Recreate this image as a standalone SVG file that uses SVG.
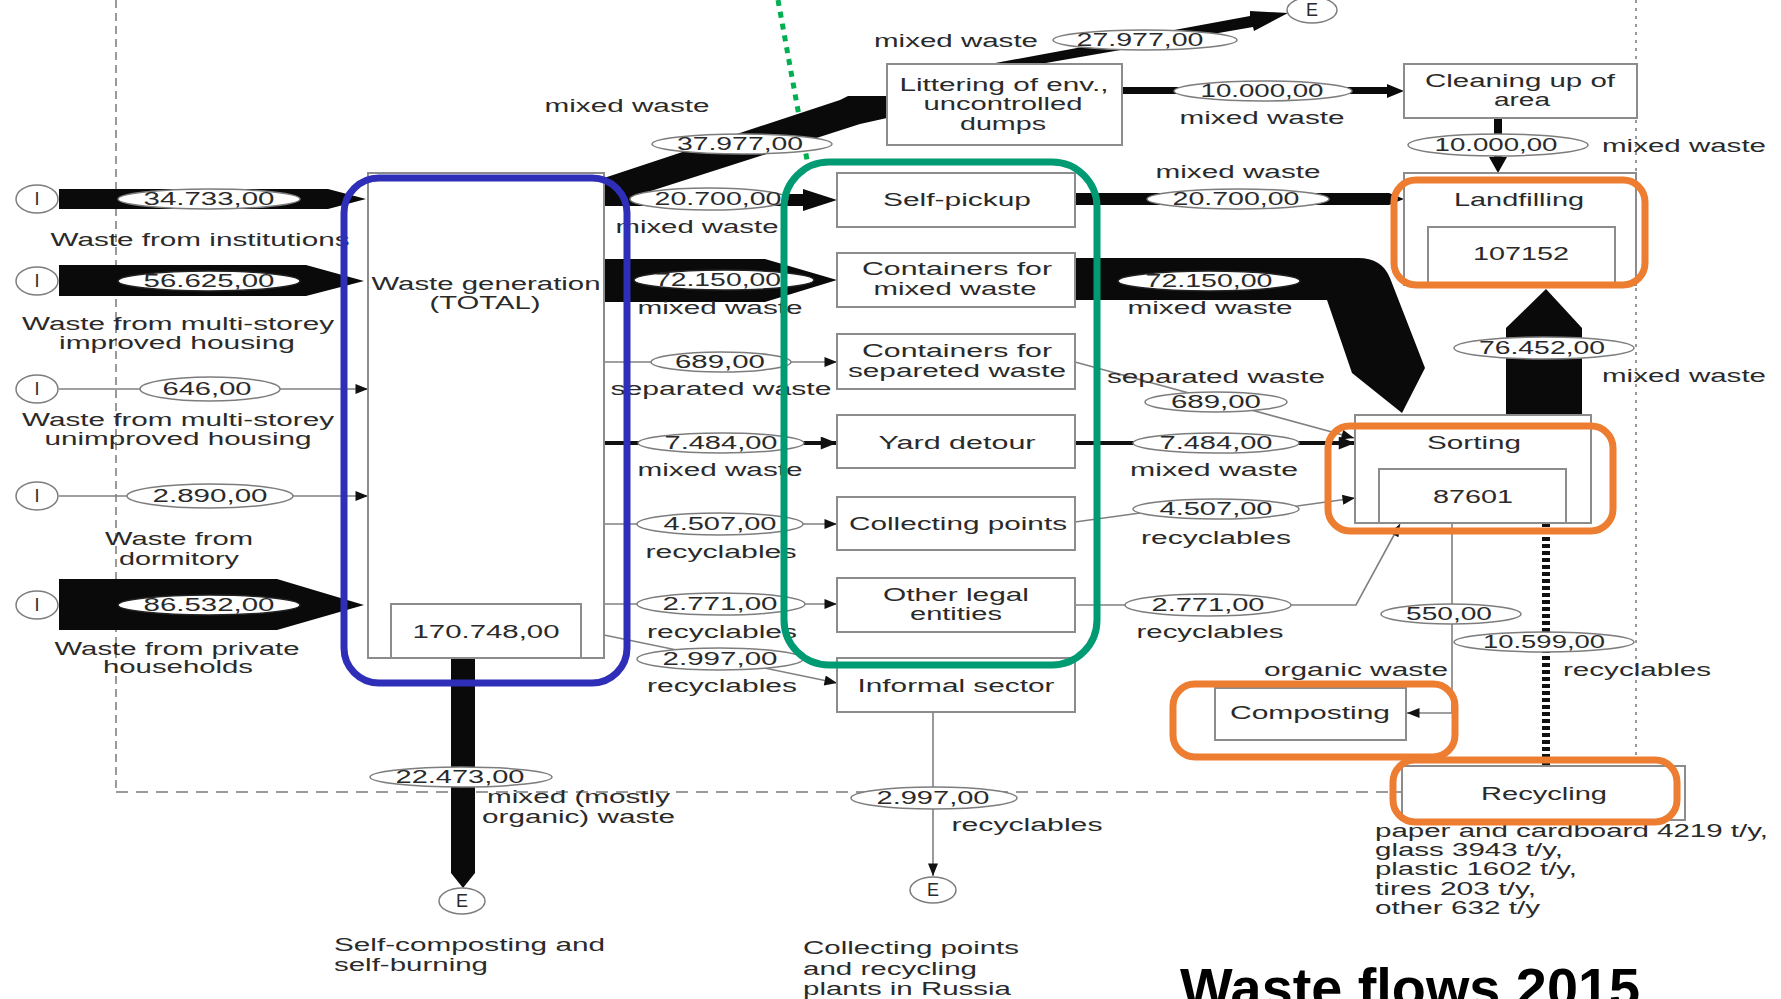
<svg xmlns="http://www.w3.org/2000/svg" width="1781" height="999" viewBox="0 0 1781 999">
<defs>
<style>
.t{font-family:"Liberation Sans",Arial,sans-serif;font-size:18px;fill:#2a2a2a;text-anchor:middle}
.s{text-anchor:start}
.box{fill:#fff;stroke:#8c8c8c;stroke-width:2}
.el{fill:#fff;stroke:#7d7d7d;stroke-width:1.5}
.elk{fill:#fff;stroke:#222;stroke-width:1.5}
.ln{fill:none;stroke:#808080;stroke-width:1.6}
.lk{fill:none;stroke:#111;stroke-width:4}
.bd{fill:#0a0a0a}
.hl{fill:none;stroke-width:7}
.bnd{fill:none;stroke:#9a9a9a;stroke-width:2}
</style>
<marker id="ah" viewBox="0 0 10 8" refX="10" refY="4" markerWidth="15" markerHeight="10" markerUnits="userSpaceOnUse" orient="auto"><path d="M0,0L10,4L0,8z" fill="#111"/></marker>
<marker id="ahk" viewBox="0 0 10 8" refX="10" refY="4" markerWidth="18" markerHeight="13" markerUnits="userSpaceOnUse" orient="auto"><path d="M0,0L10,4L0,8z" fill="#111"/></marker>
</defs>
<rect width="1781" height="999" fill="#fff"/>

<g id="boundary">
<path class="bnd" d="M116,0V792" stroke-dasharray="8 5"/>
<path class="bnd" d="M116,792H1402" stroke-dasharray="12 8"/>
<path class="bnd" d="M1636,0V766" stroke="#aaa" stroke-width="3" stroke-dasharray="3 5"/>
<path d="M778,0L807,160" stroke="#00b050" stroke-width="5" stroke-dasharray="6 6" fill="none"/>
</g>

<g id="connectors">
<polygon class="bd" points="59,189 328,189 366,199 328,209 59,209"/>
<polygon class="bd" points="59,265 306,265 364,281 306,296 59,296"/>
<line class="ln" x1="59" y1="389" x2="368" y2="389" marker-end="url(#ah)"/>
<line class="ln" x1="59" y1="496" x2="368" y2="496" marker-end="url(#ah)"/>
<polygon class="bd" points="59,579 277,579 364,605 277,630 59,630"/>
<polygon class="bd" points="604,178 840,100 848,96 887,96 887,118 860,124 604,206"/>
<polygon class="bd" points="604,194 803,194 803,189 837,200 803,211 803,206 604,206"/>
<polygon class="bd" points="604,259 765,259 837,280 765,302 604,302"/>
<line class="ln" x1="604" y1="362" x2="837" y2="362" marker-end="url(#ah)"/>
<line class="lk" x1="604" y1="443" x2="837" y2="443" marker-end="url(#ahk)"/>
<line class="ln" x1="604" y1="524" x2="837" y2="524" marker-end="url(#ah)"/>
<line class="ln" x1="604" y1="604" x2="837" y2="604" marker-end="url(#ah)"/>
<line class="ln" x1="604" y1="635" x2="837" y2="683" marker-end="url(#ah)"/>
<polygon class="bd" points="451,658 475,658 475,873 463,888 451,873"/>
<polygon class="bd" points="990,64 1250,16 1250,11 1288,13 1254,31 1253,27 1040,64"/>
<polygon class="bd" points="1122,87 1387,87 1387,84 1404,91 1387,98 1387,94 1122,94"/>
<polygon class="bd" points="1494,118 1502,118 1502,157 1507,157 1498,173 1489,157 1494,157"/>
<polygon class="bd" points="1075,193 1389,193 1404,199 1389,205 1075,205"/>
<path class="bd" d="M1075,258 L1358,258 Q1382,258 1390,278 L1425,368 L1402,413 L1352,373 L1327,300 L1075,300 Z"/>
<line class="ln" x1="1075" y1="362" x2="1354" y2="438" marker-end="url(#ah)"/>
<line class="lk" x1="1075" y1="443" x2="1355" y2="443" marker-end="url(#ahk)"/>
<polyline class="ln" points="1075,522 1140,513 1290,507 1355,498" marker-end="url(#ah)"/>
<polyline class="ln" points="1075,605 1356,605 1400,524" marker-end="url(#ah)"/>
<line class="ln" x1="933" y1="712" x2="933" y2="876" marker-end="url(#ah)"/>
<polygon class="bd" points="1506,415 1506,328 1546,289 1582,328 1582,415"/>
<polyline class="ln" points="1452,523 1452,713 1407,713" marker-end="url(#ah)"/>
<line x1="1546" y1="523" x2="1546" y2="766" stroke="#111" stroke-width="8" stroke-dasharray="4 3"/>

<g id="flow-labels">
<ellipse class="el" cx="209" cy="199" rx="91" ry="10"/><text class="t" x="209" y="205" textLength="131" lengthAdjust="spacingAndGlyphs">34.733,00</text>
<ellipse class="elk" cx="209" cy="281" rx="91" ry="10"/><text class="t" x="209" y="287" textLength="131" lengthAdjust="spacingAndGlyphs">56.625,00</text>
<ellipse class="el" cx="210" cy="389" rx="70" ry="12"/><text class="t" x="207" y="395" textLength="89" lengthAdjust="spacingAndGlyphs">646,00</text>
<ellipse class="el" cx="210" cy="496" rx="83" ry="12"/><text class="t" x="210" y="502" textLength="115" lengthAdjust="spacingAndGlyphs">2.890,00</text>
<ellipse class="elk" cx="209" cy="605" rx="91" ry="10"/><text class="t" x="209" y="611" textLength="131" lengthAdjust="spacingAndGlyphs">86.532,00</text>

<text class="t" x="627" y="112" textLength="165" lengthAdjust="spacingAndGlyphs">mixed waste</text>
<ellipse class="el" cx="742" cy="144" rx="90" ry="10"/><text class="t" x="740" y="150" textLength="126" lengthAdjust="spacingAndGlyphs">37.977,00</text>
<ellipse class="el" cx="709" cy="199" rx="79" ry="11"/><text class="t" x="718" y="205" textLength="127" lengthAdjust="spacingAndGlyphs">20.700,00</text>
<text class="t" x="697" y="233" textLength="163" lengthAdjust="spacingAndGlyphs">mixed waste</text>
<ellipse class="elk" cx="724" cy="280" rx="90" ry="10"/><text class="t" x="718" y="286" textLength="126" lengthAdjust="spacingAndGlyphs">72.150,00</text>
<text class="t" x="720" y="314" textLength="165" lengthAdjust="spacingAndGlyphs">mixed waste</text>
<ellipse class="el" cx="721" cy="362" rx="70" ry="10"/><text class="t" x="720" y="368" textLength="90" lengthAdjust="spacingAndGlyphs">689,00</text>
<text class="t" x="721" y="395" textLength="221" lengthAdjust="spacingAndGlyphs">separated waste</text>
<ellipse class="el" cx="721" cy="443" rx="83" ry="10"/><text class="t" x="721" y="449" textLength="113" lengthAdjust="spacingAndGlyphs">7.484,00</text>
<text class="t" x="720" y="476" textLength="165" lengthAdjust="spacingAndGlyphs">mixed waste</text>
<ellipse class="el" cx="720" cy="524" rx="83" ry="11"/><text class="t" x="720" y="530" textLength="113" lengthAdjust="spacingAndGlyphs">4.507,00</text>
<text class="t" x="721" y="558" textLength="151" lengthAdjust="spacingAndGlyphs">recyclables</text>
<ellipse class="el" cx="721" cy="604" rx="84" ry="11"/><text class="t" x="720" y="610" textLength="115" lengthAdjust="spacingAndGlyphs">2.771,00</text>
<text class="t" x="722" y="638" textLength="150" lengthAdjust="spacingAndGlyphs">recyclables</text>
<ellipse class="el" cx="720" cy="659" rx="83" ry="11"/><text class="t" x="720" y="665" textLength="115" lengthAdjust="spacingAndGlyphs">2.997,00</text>
<text class="t" x="722" y="692" textLength="150" lengthAdjust="spacingAndGlyphs">recyclables</text>
<ellipse class="el" cx="461" cy="777" rx="91" ry="10"/><text class="t" x="460" y="783" textLength="129" lengthAdjust="spacingAndGlyphs">22.473,00</text>
<text class="t s" x="487" y="803" textLength="183" lengthAdjust="spacingAndGlyphs">mixed (mostly</text>
<text class="t s" x="482" y="823" textLength="193" lengthAdjust="spacingAndGlyphs">organic) waste</text>

<text class="t" x="956" y="47" textLength="164" lengthAdjust="spacingAndGlyphs">mixed waste</text>
<ellipse class="el" cx="1145" cy="40" rx="92" ry="10"/><text class="t" x="1140" y="46" textLength="127" lengthAdjust="spacingAndGlyphs">27.977,00</text>
<ellipse class="el" cx="1263" cy="91" rx="89" ry="10"/><text class="t" x="1262" y="97" textLength="123" lengthAdjust="spacingAndGlyphs">10.000,00</text>
<text class="t" x="1262" y="124" textLength="165" lengthAdjust="spacingAndGlyphs">mixed waste</text>
<ellipse class="el" cx="1498" cy="145" rx="90" ry="11"/><text class="t" x="1496" y="151" textLength="123" lengthAdjust="spacingAndGlyphs">10.000,00</text>
<text class="t" x="1684" y="152" textLength="164" lengthAdjust="spacingAndGlyphs">mixed waste</text>
<text class="t" x="1238" y="178" textLength="165" lengthAdjust="spacingAndGlyphs">mixed waste</text>
<ellipse class="el" cx="1238" cy="199" rx="91" ry="10"/><text class="t" x="1236" y="205" textLength="127" lengthAdjust="spacingAndGlyphs">20.700,00</text>
<ellipse class="elk" cx="1209" cy="281" rx="91" ry="10"/><text class="t" x="1209" y="287" textLength="127" lengthAdjust="spacingAndGlyphs">72.150,00</text>
<text class="t" x="1210" y="314" textLength="165" lengthAdjust="spacingAndGlyphs">mixed waste</text>
<ellipse class="el" cx="1544" cy="348" rx="90" ry="11"/><text class="t" x="1542" y="354" textLength="126" lengthAdjust="spacingAndGlyphs">76.452,00</text>
<text class="t" x="1684" y="382" textLength="164" lengthAdjust="spacingAndGlyphs">mixed waste</text>
<text class="t" x="1216" y="383" textLength="218" lengthAdjust="spacingAndGlyphs">separated waste</text>
<ellipse class="el" cx="1216" cy="402" rx="71" ry="10"/><text class="t" x="1216" y="408" textLength="90" lengthAdjust="spacingAndGlyphs">689,00</text>
<ellipse class="el" cx="1216" cy="443" rx="83" ry="10"/><text class="t" x="1216" y="449" textLength="113" lengthAdjust="spacingAndGlyphs">7.484,00</text>
<text class="t" x="1214" y="476" textLength="168" lengthAdjust="spacingAndGlyphs">mixed waste</text>
<ellipse class="el" cx="1216" cy="509" rx="83" ry="10"/><text class="t" x="1216" y="515" textLength="113" lengthAdjust="spacingAndGlyphs">4.507,00</text>
<text class="t" x="1216" y="544" textLength="150" lengthAdjust="spacingAndGlyphs">recyclables</text>
<ellipse class="el" cx="1208" cy="605" rx="83" ry="11"/><text class="t" x="1208" y="611" textLength="113" lengthAdjust="spacingAndGlyphs">2.771,00</text>
<text class="t" x="1210" y="638" textLength="147" lengthAdjust="spacingAndGlyphs">recyclables</text>
<ellipse class="el" cx="1451" cy="614" rx="70" ry="10"/><text class="t" x="1449" y="620" textLength="86" lengthAdjust="spacingAndGlyphs">550,00</text>
<ellipse class="el" cx="1544" cy="642" rx="90" ry="10"/><text class="t" x="1544" y="648" textLength="122" lengthAdjust="spacingAndGlyphs">10.599,00</text>
<text class="t" x="1356" y="676" textLength="184" lengthAdjust="spacingAndGlyphs">organic waste</text>
<text class="t" x="1637" y="676" textLength="148" lengthAdjust="spacingAndGlyphs">recyclables</text>
<ellipse class="el" cx="934" cy="798" rx="83" ry="11"/><text class="t" x="933" y="804" textLength="113" lengthAdjust="spacingAndGlyphs">2.997,00</text>
<text class="t" x="1027" y="831" textLength="151" lengthAdjust="spacingAndGlyphs">recyclables</text>
</g>
</g>

<g id="in-institutions"><ellipse class="el" cx="37" cy="199" rx="21" ry="14"/><text class="t" x="37" y="205" font-size="16">I</text><text class="t" x="200" y="246" textLength="299" lengthAdjust="spacingAndGlyphs">Waste from institutions</text></g>
<g id="in-improved"><ellipse class="el" cx="37" cy="281" rx="21" ry="14"/><text class="t" x="37" y="287" font-size="16">I</text><text class="t" x="178" y="330" textLength="312" lengthAdjust="spacingAndGlyphs">Waste from multi-storey</text><text class="t" x="177" y="349" textLength="236" lengthAdjust="spacingAndGlyphs">improved housing</text></g>
<g id="in-unimproved"><ellipse class="el" cx="37" cy="389" rx="21" ry="14"/><text class="t" x="37" y="395" font-size="16">I</text><text class="t" x="178" y="426" textLength="312" lengthAdjust="spacingAndGlyphs">Waste from multi-storey</text><text class="t" x="178" y="445" textLength="267" lengthAdjust="spacingAndGlyphs">unimproved housing</text></g>
<g id="in-dormitory"><ellipse class="el" cx="37" cy="496" rx="21" ry="14"/><text class="t" x="37" y="502" font-size="16">I</text><text class="t" x="179" y="545" textLength="148" lengthAdjust="spacingAndGlyphs">Waste from</text><text class="t" x="179" y="565" textLength="120" lengthAdjust="spacingAndGlyphs">dormitory</text></g>
<g id="in-households"><ellipse class="el" cx="37" cy="605" rx="21" ry="14"/><text class="t" x="37" y="611" font-size="16">I</text><text class="t" x="177" y="655" textLength="245" lengthAdjust="spacingAndGlyphs">Waste from private</text><text class="t" x="178" y="673" textLength="150" lengthAdjust="spacingAndGlyphs">households</text></g>

<g id="waste-generation"><rect class="box" x="368" y="173" width="236" height="485"/><text class="t" x="486" y="290" textLength="229" lengthAdjust="spacingAndGlyphs">Waste generation</text><text class="t" x="485" y="309" textLength="111" lengthAdjust="spacingAndGlyphs">(TOTAL)</text><rect class="box" x="391" y="604" width="190" height="54"/><text class="t" x="486" y="638" textLength="147" lengthAdjust="spacingAndGlyphs">170.748,00</text></g>

<g id="littering"><rect class="box" x="887" y="64" width="235" height="81"/><text class="t" x="1004" y="91" textLength="209" lengthAdjust="spacingAndGlyphs">Littering of env.,</text><text class="t" x="1003" y="110" textLength="159" lengthAdjust="spacingAndGlyphs">uncontrolled</text><text class="t" x="1003" y="130" textLength="86" lengthAdjust="spacingAndGlyphs">dumps</text></g>
<g id="self-pickup"><rect class="box" x="837" y="173" width="238" height="54"/><text class="t" x="957" y="206" textLength="148" lengthAdjust="spacingAndGlyphs">Self-pickup</text></g>
<g id="containers-mixed"><rect class="box" x="837" y="253" width="238" height="54"/><text class="t" x="957" y="275" textLength="190" lengthAdjust="spacingAndGlyphs">Containers for</text><text class="t" x="955" y="295" textLength="163" lengthAdjust="spacingAndGlyphs">mixed waste</text></g>
<g id="containers-separated"><rect class="box" x="837" y="334" width="238" height="55"/><text class="t" x="957" y="357" textLength="190" lengthAdjust="spacingAndGlyphs">Containers for</text><text class="t" x="957" y="377" textLength="218" lengthAdjust="spacingAndGlyphs">separeted waste</text></g>
<g id="yard-detour"><rect class="box" x="837" y="415" width="238" height="53"/><text class="t" x="957" y="449" textLength="157" lengthAdjust="spacingAndGlyphs">Yard detour</text></g>
<g id="collecting-points"><rect class="box" x="837" y="497" width="238" height="53"/><text class="t" x="958" y="530" textLength="218" lengthAdjust="spacingAndGlyphs">Collecting points</text></g>
<g id="other-legal"><rect class="box" x="837" y="578" width="238" height="54"/><text class="t" x="956" y="601" textLength="146" lengthAdjust="spacingAndGlyphs">Other legal</text><text class="t" x="956" y="620" textLength="92" lengthAdjust="spacingAndGlyphs">entities</text></g>
<g id="informal-sector"><rect class="box" x="837" y="658" width="238" height="54"/><text class="t" x="956" y="692" textLength="197" lengthAdjust="spacingAndGlyphs">Informal sector</text></g>

<g id="cleaning"><rect class="box" x="1404" y="64" width="233" height="54"/><text class="t" x="1520" y="87" textLength="190" lengthAdjust="spacingAndGlyphs">Cleaning up of</text><text class="t" x="1522" y="106" textLength="56" lengthAdjust="spacingAndGlyphs">area</text></g>
<g id="landfilling"><rect class="box" x="1404" y="173" width="232" height="112"/><text class="t" x="1519" y="206" textLength="130" lengthAdjust="spacingAndGlyphs">Landfilling</text><rect class="box" x="1428" y="227" width="187" height="58"/><text class="t" x="1521" y="260" textLength="96" lengthAdjust="spacingAndGlyphs">107152</text></g>
<g id="sorting"><rect class="box" x="1355" y="415" width="236" height="108"/><text class="t" x="1474" y="449" textLength="94" lengthAdjust="spacingAndGlyphs">Sorting</text><rect class="box" x="1379" y="469" width="187" height="54"/><text class="t" x="1473" y="503" textLength="80" lengthAdjust="spacingAndGlyphs">87601</text></g>
<g id="composting"><rect class="box" x="1215" y="688" width="191" height="52"/><text class="t" x="1310" y="719" textLength="160" lengthAdjust="spacingAndGlyphs">Composting</text></g>
<g id="recycling"><rect class="box" x="1402" y="766" width="283" height="54"/><text class="t" x="1544" y="800" textLength="126" lengthAdjust="spacingAndGlyphs">Recycling</text>
<text class="t s" x="1375" y="837" textLength="393" lengthAdjust="spacingAndGlyphs">paper and cardboard 4219 t/y,</text>
<text class="t s" x="1375" y="856" textLength="188" lengthAdjust="spacingAndGlyphs">glass 3943 t/y,</text>
<text class="t s" x="1375" y="875" textLength="202" lengthAdjust="spacingAndGlyphs">plastic 1602 t/y,</text>
<text class="t s" x="1375" y="895" textLength="161" lengthAdjust="spacingAndGlyphs">tires 203 t/y,</text>
<text class="t s" x="1375" y="914" textLength="165" lengthAdjust="spacingAndGlyphs">other 632 t/y</text></g>

<g id="export-top"><ellipse class="el" cx="1312" cy="10" rx="25" ry="13"/><text class="t" x="1312" y="16" font-size="16">E</text></g>
<g id="export-composting"><ellipse class="el" cx="462" cy="901" rx="23" ry="13"/><text class="t" x="462" y="907" font-size="16">E</text><text class="t s" x="334" y="951" textLength="271" lengthAdjust="spacingAndGlyphs">Self-composting and</text><text class="t s" x="334" y="971" textLength="154" lengthAdjust="spacingAndGlyphs">self-burning</text></g>
<g id="export-russia"><ellipse class="el" cx="933" cy="890" rx="23" ry="13"/><text class="t" x="933" y="896" font-size="16">E</text><text class="t s" x="803" y="954" textLength="216" lengthAdjust="spacingAndGlyphs">Collecting points</text><text class="t s" x="803" y="975" textLength="174" lengthAdjust="spacingAndGlyphs">and recycling</text><text class="t s" x="803" y="995" textLength="208" lengthAdjust="spacingAndGlyphs">plants in Russia</text></g>

<g id="highlights">
<rect class="hl" x="344" y="178" width="283" height="505" rx="35" stroke="#2e2eb8"/>
<rect class="hl" x="784" y="162" width="313" height="503" rx="45" stroke="#009b72"/>
<rect class="hl" x="1394" y="180" width="251" height="105" rx="22" stroke="#ed7d31"/>
<rect class="hl" x="1328" y="426" width="285" height="105" rx="22" stroke="#ed7d31"/>
<rect class="hl" x="1173" y="684" width="282" height="73" rx="22" stroke="#ed7d31"/>
<rect class="hl" x="1393" y="760" width="284" height="62" rx="22" stroke="#ed7d31"/>
</g>

<text id="title" x="1180" y="1007" font-family="'Liberation Sans',Arial,sans-serif" font-weight="bold" font-size="56" fill="#000" textLength="460" lengthAdjust="spacingAndGlyphs">Waste flows 2015</text>
</svg>
